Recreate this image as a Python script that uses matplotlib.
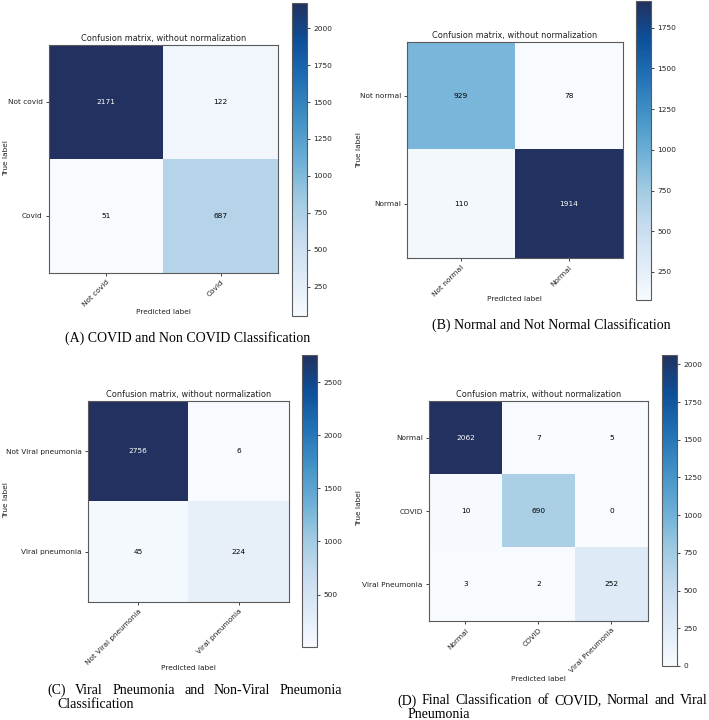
import numpy as np
import matplotlib
matplotlib.use("Agg")
import matplotlib.pyplot as plt
from matplotlib.colors import LinearSegmentedColormap

W, H = 709, 720
fig = plt.figure(figsize=(W / 100, H / 100), dpi=100)

# ---------------- data ----------------
labels_a = ["Not covid", "Covid"]
cm_a = [[2171, 122], [51, 687]]

labels_b = ["Not normal", "Normal"]
cm_b = [[929, 78], [110, 1914]]

labels_c = ["Not Viral pneumonia", "Viral pneumonia"]
cm_c = [[2756, 6], [45, 224]]

labels_d = ["Normal", "COVID", "Viral Pneumonia"]
cm_d = [[2062, 7, 5], [10, 690, 0], [3, 2, 252]]

title = "Confusion matrix, without normalization"
captions = {
    "A": ["(A) COVID and Non COVID Classification"],
    "B": ["(B) Normal and Not Normal Classification"],
    "C": ["(C) Viral Pneumonia and Non-Viral Pneumonia", "Classification"],
    "D": ["(D) Final Classification of COVID, Normal and Viral", "Pneumonia"],
}

blues_stops = ["#f7fbff", "#deebf7", "#c6dbef", "#9ecae1", "#6baed6",
               "#4292c6", "#2171b5", "#0d509a", "#22315f"]
cmap = LinearSegmentedColormap.from_list("blues_ref", blues_stops)

FS = 5.3
TFS = 5.9
GRAY = "#5a5a5a"
TXT = "#222222"


def px_rect(x0, y0, x1, y1):
    return [x0 / W, 1 - y1 / H, (x1 - x0) / W, (y1 - y0) / H]


def fx(x):
    return x / W


def fy(y):
    return 1 - y / H


def panel(cm, labels, mat_box, cb_box, ylab_xy, xlab_xy):
    cm = np.array(cm)
    ax = fig.add_axes(px_rect(*mat_box))
    im = ax.imshow(cm, interpolation="nearest", cmap=cmap, aspect="auto")
    ax.set_title(title, fontsize=TFS, pad=3, color=TXT)
    n = len(labels)
    ax.set_xticks(np.arange(n))
    ax.set_yticks(np.arange(n))
    ax.set_xticklabels(labels, rotation=45, ha="right", rotation_mode="anchor")
    ax.set_yticklabels(labels)
    ax.tick_params(labelsize=FS, length=2.5, width=0.6, pad=2, colors=TXT)
    for s in ax.spines.values():
        s.set_color(GRAY)
        s.set_linewidth(0.8)
    thresh = cm.max() / 2.0
    for i in range(n):
        for j in range(n):
            ax.text(j, i, format(cm[i, j], "d"), ha="center", va="center",
                    fontsize=FS, color="white" if cm[i, j] > thresh else "black")
    ax.set_ylabel("True label", fontsize=FS, color=TXT)
    ax.set_xlabel("Predicted label", fontsize=FS, color=TXT)
    ax.yaxis.set_label_coords(fx(ylab_xy[0]), fy(ylab_xy[1]), transform=fig.transFigure)
    ax.xaxis.set_label_coords(fx(xlab_xy[0]), fy(xlab_xy[1]), transform=fig.transFigure)
    ax.yaxis.label.set_va("center")
    ax.yaxis.label.set_ha("center")
    ax.xaxis.label.set_va("center")
    ax.xaxis.label.set_ha("center")
    cax = fig.add_axes(px_rect(*cb_box))
    cb = fig.colorbar(im, cax=cax)
    cb.ax.tick_params(labelsize=FS, length=2.5, width=0.6, pad=2, colors=TXT)
    cb.outline.set_edgecolor(GRAY)
    cb.outline.set_linewidth(0.8)
    return ax


panel(cm_a, labels_a, (49, 45, 278, 273), (292, 3, 307, 316), (6, 158), (163, 312))
panel(cm_b, labels_b, (407, 42, 623, 258), (636, 1, 651, 300), (359, 150), (514, 299))
panel(cm_c, labels_c, (88, 401, 289, 602), (302, 355, 317, 647), (6, 500), (188, 668))
panel(cm_d, labels_d, (429, 401, 648, 621), (662, 355, 677, 666), (359, 508), (538, 679))

CAP_FS = 10
serif = "Liberation Serif"

fig.text(fx(188), fy(338), captions["A"][0], ha="center", va="center",
         fontsize=CAP_FS, family=serif)
fig.text(fx(551), fy(325), captions["B"][0], ha="center", va="center",
         fontsize=CAP_FS, family=serif)

fig.canvas.draw()
renderer = fig.canvas.get_renderer()


def justified(line, x0, x1, y):
    words = line.split(" ")
    objs = [fig.text(0, fy(y), w, ha="left", va="center", fontsize=CAP_FS, family=serif)
            for w in words]
    widths = [o.get_window_extent(renderer).width for o in objs]
    gap = (x1 - x0 - sum(widths)) / (len(words) - 1)
    x = x0
    for o, w in zip(objs, widths):
        o.set_x(fx(x))
        x += w + gap


justified(captions["C"][0], 47, 342, 690)
fig.text(fx(57), fy(704), captions["C"][1], ha="left", va="center",
         fontsize=CAP_FS, family=serif)
justified(captions["D"][0], 397, 708, 701)
fig.text(fx(408), fy(714), captions["D"][1], ha="left", va="center",
         fontsize=CAP_FS, family=serif)

fig.savefig("out.png", dpi=100)
